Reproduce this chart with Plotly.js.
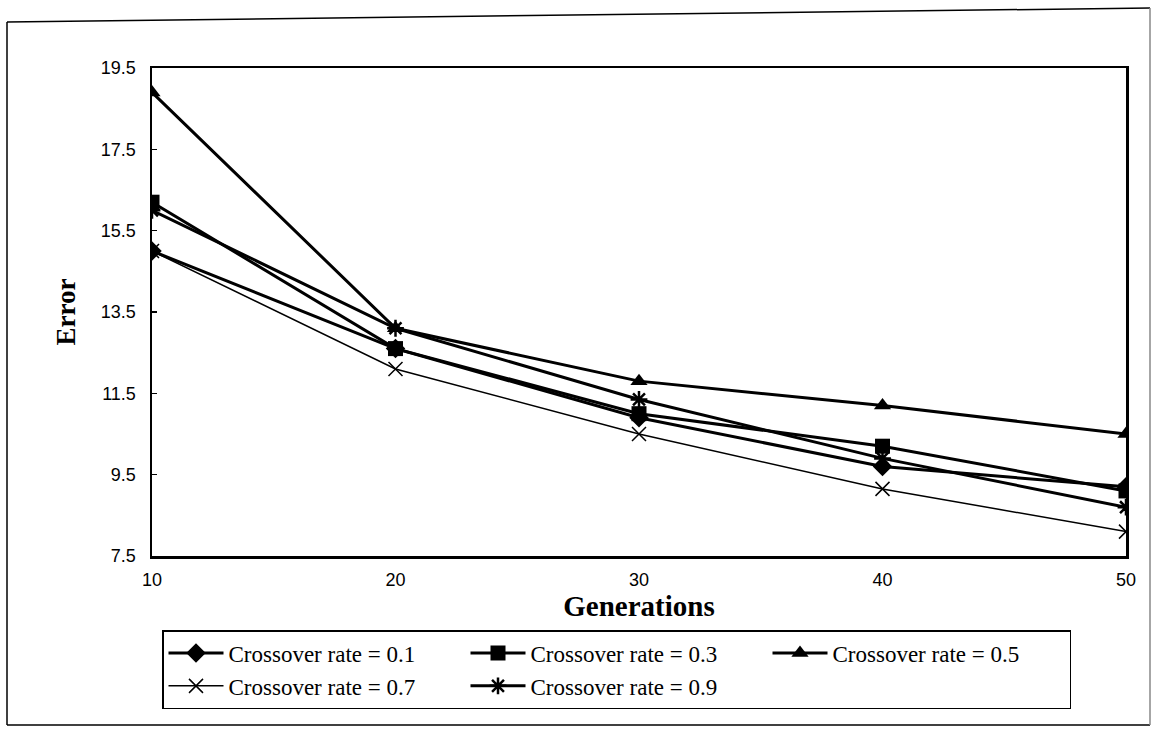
<!DOCTYPE html>
<html>
<head>
<meta charset="utf-8">
<script src="https://cdn.plot.ly/plotly-3.0.1.min.js"></script>
<style>html,body{margin:0;padding:0;background:#fff;}#chart{width:1156px;height:729px;}</style>
</head>
<body>
<div id="chart"></div>
<script>
const generations = [10, 20, 30, 40, 50];
const rate01 = [15.0, 12.6, 10.9, 9.7, 9.2];
const rate03 = [16.2, 12.6, 11.0, 10.2, 9.1];
const rate05 = [18.9, 13.1, 11.8, 11.2, 10.5];
const rate07 = [15.0, 12.1, 10.5, 9.15, 8.1];
const rate09 = [16.0, 13.1, 11.35, 9.9, 8.7];
const seriesNames = ["Crossover rate = 0.1", "Crossover rate = 0.3", "Crossover rate = 0.5", "Crossover rate = 0.7", "Crossover rate = 0.9"];
const yTicks = [7.5, 9.5, 11.5, 13.5, 15.5, 17.5, 19.5];
const xTicks = [10, 20, 30, 40, 50];

const mk = (y, name, symbol, size, lw, mlw) => ({
  x: generations, y: y, name: name, type: 'scatter', mode: 'lines+markers',
  line: {color: '#000', width: lw},
  marker: {symbol: symbol, size: size, color: '#000', line: {color: '#000', width: mlw}}
});

const data = [
  mk(rate01, seriesNames[0], 'diamond', 15, 3, 0),
  mk(rate03, seriesNames[1], 'square', 15, 3, 0),
  mk(rate05, seriesNames[2], 'triangle-up', 15, 3, 0),
  mk(rate07, seriesNames[3], 'x-thin-open', 14, 1.5, 1.5),
  mk(rate09, seriesNames[4], 'asterisk-open', 14, 3, 2.5)
];

const TOP = 68, BOT = 556, LEFT = 152, RIGHT = 1126;
const W = RIGHT - LEFT, H = BOT - TOP;
const px = v => (v - LEFT) / W;
const py = v => (BOT - v) / H;

const frame = (x0, y0, x1, y1, c) => ({type: 'line', xref: 'paper', yref: 'paper',
  x0: px(x0), y0: py(y0), x1: px(x1), y1: py(y1), line: {color: c || '#000', width: 1.5}, layer: 'below'});

const layout = {
  width: 1156, height: 729,
  margin: {l: LEFT, r: 1156 - RIGHT, t: TOP, b: 729 - BOT},
  paper_bgcolor: '#fff', plot_bgcolor: '#fff',
  showlegend: true,
  xaxis: {
    range: [10, 50], tickvals: xTicks, ticktext: xTicks.map(String),
    showgrid: false, zeroline: false, showline: true, linecolor: '#000', linewidth: 2.5, mirror: true,
    ticks: '', ticklabelstandoff: 6,
    tickfont: {family: 'Liberation Sans, Arial', size: 18, color: '#000'},
    title: {text: '<b>Generations</b>', font: {family: 'Liberation Serif, Times New Roman', size: 29, color: '#000'}, standoff: 2}
  },
  yaxis: {
    range: [7.5, 19.5], tickvals: yTicks, ticktext: yTicks.map(v => v.toFixed(1)),
    showgrid: false, zeroline: false, showline: true, linecolor: '#000', linewidth: 2.5, mirror: true,
    ticks: 'inside', ticklen: 5, tickcolor: '#000', tickwidth: 1.5, ticklabelstandoff: 10,
    tickfont: {family: 'Liberation Sans, Arial', size: 18, color: '#000'},
    title: {text: '<b>Error</b>', font: {family: 'Liberation Serif, Times New Roman', size: 27, color: '#000'}, standoff: 18}
  },
  legend: {
    orientation: 'h', x: px(162), xanchor: 'left', y: py(630), yanchor: 'top',
    bordercolor: '#000', borderwidth: 1.5, bgcolor: '#fff',
    font: {family: 'Liberation Serif, Times New Roman', size: 23, color: '#000'},
    entrywidth: 232, entrywidthmode: 'pixels', itemwidth: 55, tracegroupgap: 0
  },
  shapes: [
    frame(7, 22, 1150, 8),
    frame(7, 22, 7, 725),
    frame(7, 725, 1150, 725),
    frame(1150, 8, 1150, 725, '#888')
  ]
};

Plotly.newPlot('chart', data, layout, {displayModeBar: false, staticPlot: true});
</script>
</body>
</html>
